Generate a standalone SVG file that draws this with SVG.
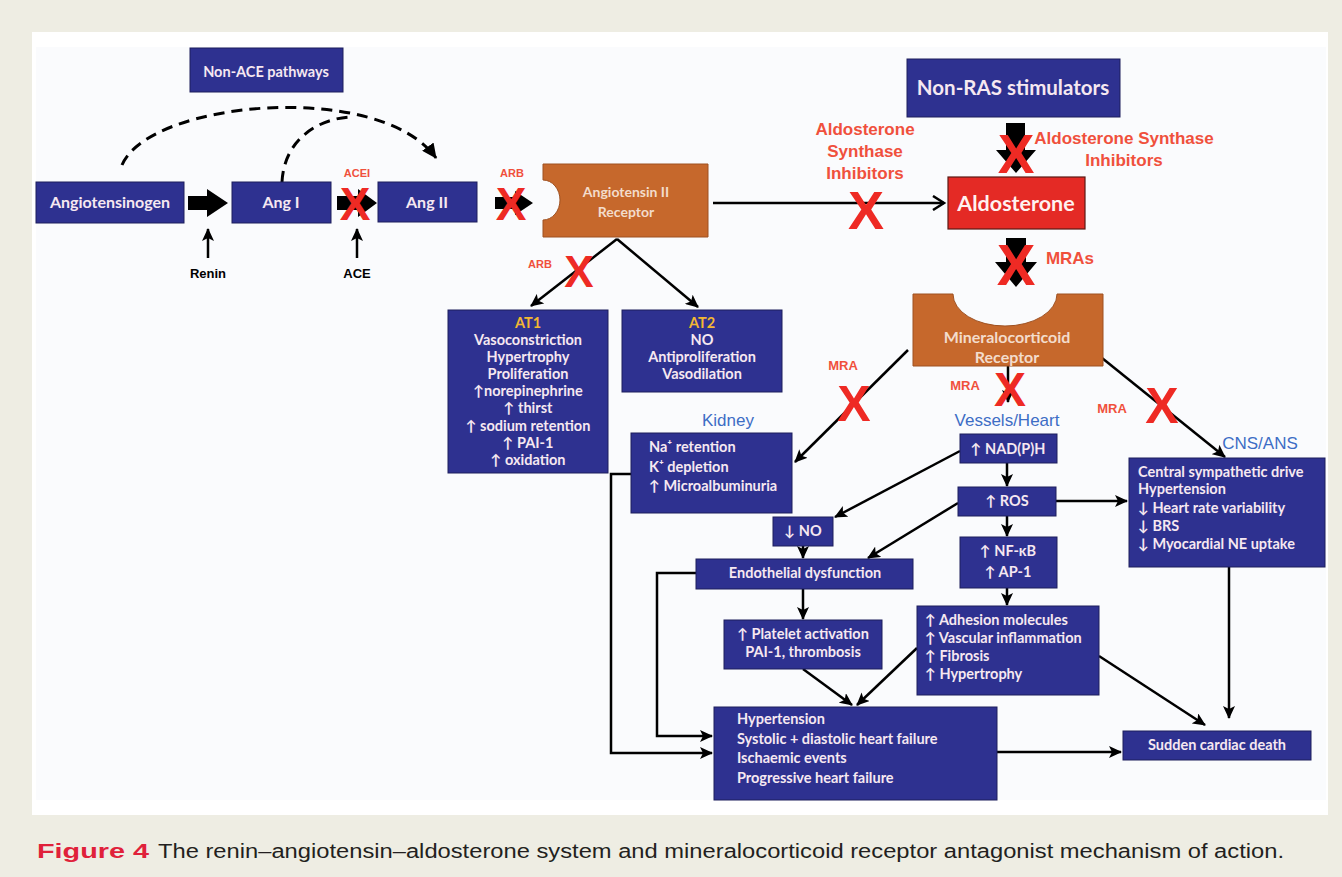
<svg xmlns="http://www.w3.org/2000/svg" width="1342" height="877" viewBox="0 0 1342 877">
<defs>
<style>
.box{fill:#2E3190;stroke:#1C1E5C;stroke-width:1}
.orng{fill:#C6682C;stroke:#9E5020;stroke-width:1}
.t{font-family:Lato,"Liberation Sans",sans-serif;font-weight:700;fill:#F6E8F1}
.s14{font-size:14.5px}
.s135{font-size:14.5px}
.tc{text-anchor:middle}
.ot{font-family:Lato,"Liberation Sans",sans-serif;font-weight:700;fill:#F3DCCB;text-anchor:middle}
.red{font-family:"Liberation Sans",Arial,sans-serif;font-weight:700;fill:#F0503C;text-anchor:middle}
.x{font-family:"Liberation Sans",Arial,sans-serif;font-weight:700;fill:#EE2A24;text-anchor:middle}
.blue{font-family:"Liberation Sans",Arial,sans-serif;fill:#3D6DC5;font-size:17px;text-anchor:middle}
.yel{fill:#F2B733}
.ln{fill:none;stroke:#000;stroke-width:2.5}
.dash{fill:none;stroke:#000;stroke-width:3;stroke-dasharray:11 7}
.blk{fill:#000}
</style>
<marker id="ah" markerUnits="userSpaceOnUse" markerWidth="14" markerHeight="12" refX="12" refY="6" orient="auto">
<path d="M0,0 L13,6 L0,12 L3,6 z" fill="#000"/>
</marker>
<marker id="oh" markerUnits="userSpaceOnUse" markerWidth="16" markerHeight="16" refX="13" refY="8" orient="auto">
<path d="M2,1 L13,8 L2,15" fill="none" stroke="#000" stroke-width="2.5"/>
</marker>
<marker id="dh" markerUnits="userSpaceOnUse" markerWidth="16" markerHeight="14" refX="14" refY="7" orient="auto">
<path d="M0,0 L15,7 L0,14 z" fill="#000"/>
</marker>
</defs>
<rect x="0" y="0" width="1342" height="877" fill="#EEEDE3"/>
<rect x="32" y="32" width="1296" height="783" fill="#FFFFFF"/>
<rect x="36" y="47" width="1290" height="753" fill="#FAFBFD"/>

<g id="connectors">
<path class="dash" d="M122,165 C150,100 380,80 436,158" marker-end="url(#dh)"/>
<path class="dash" d="M282,182 C284,140 318,118 352,117"/>
<polygon class="blk" points="188,196 207,196 207,189 228,203 207,217 207,210 188,210"/>
<polygon class="blk" points="337,196 358,196 358,189 377,203 358,217 358,210 337,210"/>
<polygon class="blk" points="495,197 515,197 515,191 533,203 515,215 515,209 495,209"/>
<polygon class="blk" points="1006,123 1025,123 1025,150 1036,150 1016,173 996,150 1006,150"/>
<polygon class="blk" points="1006,238 1026,238 1026,262 1037,262 1016,287 995,262 1006,262"/>
<line class="ln" x1="208" y1="258" x2="208" y2="229" marker-end="url(#ah)"/>
<line class="ln" x1="357" y1="258" x2="357" y2="229" marker-end="url(#ah)"/>
<line class="ln" x1="713" y1="203" x2="944" y2="203" marker-end="url(#oh)"/>
<line class="ln" x1="617" y1="239" x2="531" y2="306" marker-end="url(#ah)"/>
<line class="ln" x1="617" y1="239" x2="698" y2="307" marker-end="url(#ah)"/>
<line class="ln" x1="908" y1="350" x2="795" y2="462" marker-end="url(#ah)"/>
<line class="ln" x1="1008" y1="366" x2="1008" y2="402" marker-end="url(#ah)"/>
<line class="ln" x1="1102" y1="358" x2="1225" y2="457" marker-end="url(#ah)"/>
<line class="ln" x1="960" y1="451" x2="835" y2="517" marker-end="url(#ah)"/>
<line class="ln" x1="958" y1="503" x2="868" y2="558" marker-end="url(#ah)"/>
<line class="ln" x1="1007" y1="463" x2="1007" y2="486" marker-end="url(#ah)"/>
<line class="ln" x1="1007" y1="516" x2="1007" y2="536" marker-end="url(#ah)"/>
<line class="ln" x1="1007" y1="588" x2="1007" y2="605" marker-end="url(#ah)"/>
<line class="ln" x1="1056" y1="501" x2="1127" y2="501" marker-end="url(#ah)"/>
<line class="ln" x1="803" y1="546" x2="803" y2="558" marker-end="url(#ah)"/>
<line class="ln" x1="803" y1="589" x2="803" y2="619" marker-end="url(#ah)"/>
<line class="ln" x1="803" y1="669" x2="852" y2="705" marker-end="url(#ah)"/>
<line class="ln" x1="917" y1="648" x2="857" y2="705" marker-end="url(#ah)"/>
<polyline class="ln" points="631,474 611,474 611,753 712,753" marker-end="url(#ah)"/>
<polyline class="ln" points="696,573 657,573 657,736 712,736" marker-end="url(#ah)"/>
<line class="ln" x1="997" y1="752" x2="1121" y2="752" marker-end="url(#ah)"/>
<line class="ln" x1="1229" y1="567" x2="1229" y2="718" marker-end="url(#ah)"/>
<line class="ln" x1="1099" y1="656" x2="1205" y2="725" marker-end="url(#ah)"/>
</g>

<g id="inhibitors">
<text class="red" x="357" y="177" style="font-size:11px">ACEI</text>
<text class="x" x="355" y="220" style="font-size:46px">X</text>
<text class="red" x="512" y="177" style="font-size:11px">ARB</text>
<text class="x" x="511" y="220" style="font-size:46px">X</text>
<text class="red" style="font-size:17px"><tspan x="865" y="135">Aldosterone</tspan><tspan x="865" y="157">Synthase</tspan><tspan x="865" y="179">Inhibitors</tspan></text>
<text class="x" x="866" y="229" style="font-size:54px">X</text>
<text class="red" style="font-size:17px"><tspan x="1124" y="144">Aldosterone Synthase</tspan><tspan x="1124" y="166">Inhibitors</tspan></text>
<text class="x" x="1016" y="173" style="font-size:55px">X</text>
<text class="red" x="1070" y="264" style="font-size:17px">MRAs</text>
<text class="x" x="1016" y="285" style="font-size:58px">X</text>
<text class="red" x="540" y="268" style="font-size:11px">ARB</text>
<text class="x" x="579" y="287" style="font-size:44px">X</text>
<text class="red" x="843" y="370" style="font-size:13px">MRA</text>
<text class="x" x="854" y="421" style="font-size:50px">X</text>
<text class="red" x="965" y="390" style="font-size:13px">MRA</text>
<text class="x" x="1010" y="406" style="font-size:48px">X</text>
<text class="red" x="1112" y="413" style="font-size:13px">MRA</text>
<text class="x" x="1162" y="423" style="font-size:50px">X</text>
</g>

<g id="non-ace"><rect class="box" x="190" y="48" width="153" height="44"/><text class="t tc" x="266" y="77" style="font-size:14.5px">Non-ACE pathways</text></g>
<g id="angiotensinogen"><rect class="box" x="36" y="182" width="148" height="41"/><text class="t tc" x="110" y="208" style="font-size:16px">Angiotensinogen</text></g>
<g id="ang-i"><rect class="box" x="232" y="182" width="99" height="41"/><text class="t tc" x="281" y="208" style="font-size:16px">Ang I</text></g>
<g id="ang-ii"><rect class="box" x="378" y="182" width="99" height="40"/><text class="t tc" x="427" y="208" style="font-size:16px">Ang II</text></g>
<g id="renin"><text x="208" y="278" font-family="Liberation Sans,Arial,sans-serif" font-weight="700" font-size="13" text-anchor="middle">Renin</text></g>
<g id="ace"><text x="357" y="278" font-family="Liberation Sans,Arial,sans-serif" font-weight="700" font-size="13" text-anchor="middle">ACE</text></g>
<g id="at2-receptor"><path class="orng" d="M543,164 H708 V237 H543 V220 A17,20 0 0 0 543,180 Z"/><text class="ot" style="font-size:14px"><tspan x="626" y="197">Angiotensin II</tspan><tspan x="626" y="217">Receptor</tspan></text></g>
<g id="non-ras"><rect class="box" x="907" y="59" width="213" height="58"/><text class="t tc" x="1013" y="95" style="font-size:20.5px">Non-RAS stimulators</text></g>
<g id="aldosterone"><rect x="948" y="177" width="137" height="52" fill="#E42A25" stroke="#5A1A14" stroke-width="1.2"/><text class="t tc" x="1016" y="211" style="font-size:21.5px;fill:#FFF2F0">Aldosterone</text></g>
<g id="mr"><path class="orng" d="M913,294 H953 A52,32 0 0 0 1057,294 H1103 V366 H913 Z"/><text class="ot" style="font-size:16px"><tspan x="1007" y="343">Mineralocorticoid</tspan><tspan x="1007" y="363">Receptor</tspan></text></g>
<g id="at1">
<rect class="box" x="448" y="310" width="160" height="163"/>
<text class="t tc s14"><tspan class="yel" x="528" y="328">AT1</tspan><tspan x="528" y="345">Vasoconstriction</tspan><tspan x="528" y="362">Hypertrophy</tspan><tspan x="528" y="379">Proliferation</tspan><tspan x="528" y="396">↑norepinephrine</tspan><tspan x="528" y="413">↑ thirst</tspan><tspan x="528" y="431">↑ sodium retention</tspan><tspan x="528" y="448">↑ PAI-1</tspan><tspan x="528" y="465">↑ oxidation</tspan></text>
</g>
<g id="at2">
<rect class="box" x="622" y="310" width="160" height="82"/>
<text class="t tc s14"><tspan class="yel" x="702" y="328">AT2</tspan><tspan x="702" y="345">NO</tspan><tspan x="702" y="362">Antiproliferation</tspan><tspan x="702" y="379">Vasodilation</tspan></text>
</g>
<g id="kidney">
<text class="blue" x="728" y="426">Kidney</text>
<rect class="box" x="631" y="433" width="161" height="80"/>
<text class="t s135"><tspan x="649" y="452">Na⁺ retention</tspan><tspan x="649" y="472">K⁺ depletion</tspan><tspan x="649" y="491">↑ Microalbuminuria</tspan></text>
</g>
<g id="vessels-label"><text class="blue" x="1007" y="426">Vessels/Heart</text></g>
<g id="cns">
<text class="blue" x="1260" y="449">CNS/ANS</text>
<rect class="box" x="1129" y="458" width="196" height="109"/>
<text class="t s135"><tspan x="1138" y="477">Central sympathetic drive</tspan><tspan x="1138" y="494">Hypertension</tspan><tspan x="1138" y="513">↓ Heart rate variability</tspan><tspan x="1138" y="531">↓ BRS</tspan><tspan x="1138" y="549">↓ Myocardial NE uptake</tspan></text>
</g>
<g id="nadph"><rect class="box" x="960" y="434" width="97" height="29"/><text class="t tc s135" x="1008" y="454">↑ NAD(P)H</text></g>
<g id="ros"><rect class="box" x="958" y="487" width="98" height="29"/><text class="t tc s135" x="1007" y="506">↑ ROS</text></g>
<g id="nfkb"><rect class="box" x="960" y="537" width="97" height="51"/><text class="t tc s135"><tspan x="1008" y="556">↑ NF-κB</tspan><tspan x="1008" y="577">↑ AP-1</tspan></text></g>
<g id="adhesion"><rect class="box" x="917" y="606" width="182" height="89"/><text class="t s135"><tspan x="925" y="625">↑ Adhesion molecules</tspan><tspan x="925" y="643">↑ Vascular inflammation</tspan><tspan x="925" y="661">↑ Fibrosis</tspan><tspan x="925" y="679">↑ Hypertrophy</tspan></text></g>
<g id="no"><rect class="box" x="773" y="517" width="60" height="29"/><text class="t tc s135" x="803" y="536">↓ NO</text></g>
<g id="endothelial"><rect class="box" x="696" y="559" width="217" height="30"/><text class="t tc s135" x="805" y="578">Endothelial dysfunction</text></g>
<g id="platelet"><rect class="box" x="724" y="620" width="158" height="49"/><text class="t tc s135"><tspan x="803" y="639">↑ Platelet activation</tspan><tspan x="803" y="657">PAI-1, thrombosis</tspan></text></g>
<g id="outcomes"><rect class="box" x="714" y="707" width="283" height="93"/><text class="t s135"><tspan x="737" y="724">Hypertension</tspan><tspan x="737" y="744">Systolic + diastolic heart failure</tspan><tspan x="737" y="763">Ischaemic events</tspan><tspan x="737" y="783">Progressive heart failure</tspan></text></g>
<g id="scd"><rect class="box" x="1123" y="731" width="188" height="29"/><text class="t tc s135" x="1217" y="750">Sudden cardiac death</text></g>

<g id="caption">
<text x="37" y="858" font-family="Liberation Sans,Arial,sans-serif" font-weight="700" font-size="21" fill="#E0213A" textLength="112" lengthAdjust="spacingAndGlyphs">Figure 4</text>
<text x="158" y="858" font-family="Liberation Sans,Arial,sans-serif" font-size="20" fill="#231F20" textLength="1126" lengthAdjust="spacingAndGlyphs">The renin–angiotensin–aldosterone system and mineralocorticoid receptor antagonist mechanism of action.</text>
</g>
</svg>
